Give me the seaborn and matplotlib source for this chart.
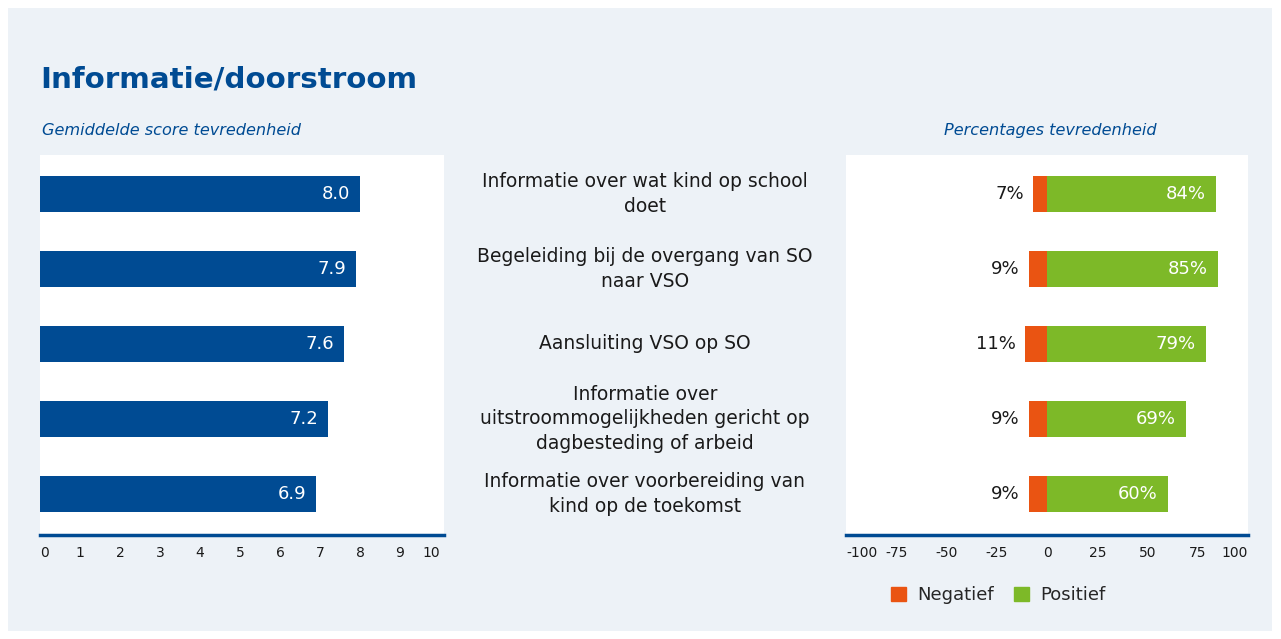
import pandas as pd
import matplotlib.pyplot as plt
import matplotlib.patches as mpatches
import matplotlib.transforms as mtransforms
import seaborn as sns

# data
items = [
    "Informatie over wat kind op school\ndoet",
    "Begeleiding bij de overgang van SO\nnaar VSO",
    "Aansluiting VSO op SO",
    "Informatie over\nuitstroommogelijkheden gericht op\ndagbesteding of arbeid",
    "Informatie over voorbereiding van\nkind op de toekomst",
]
scores = [8.0, 7.9, 7.6, 7.2, 6.9]
negatief = [7, 9, 11, 9, 9]
positief = [84, 85, 79, 69, 60]

BG = "#EDF2F7"
BLUE = "#004B93"
ORANGE = "#EA5412"
GREEN = "#7DB928"
TXT = "#1a1a1a"

sns.set_theme(style="white")
plt.rcParams["font.family"] = ["DejaVu Sans"]
plt.rcParams["axes.unicode_minus"] = False

df = pd.DataFrame({"item": items, "score": scores,
                   "neg": [-v for v in negatief], "pos": positief})

fig = plt.figure(figsize=(12.81, 6.39), dpi=100)
fig.patch.set_facecolor("white")
fig.patches.append(mpatches.Rectangle((8 / 1281, 8 / 639), 1264 / 1281, 623 / 639,
                                      transform=fig.transFigure, facecolor=BG,
                                      edgecolor="none", zorder=-10))

ax1 = fig.add_axes([40 / 1281, 1 - 535 / 639, 404 / 1281, 380 / 639])
ax2 = fig.add_axes([846 / 1281, 1 - 535 / 639, 402 / 1281, 380 / 639])

# left: mean scores
sns.barplot(data=df, x="score", y="item", ax=ax1, color=BLUE, width=0.48,
            saturation=1, orient="h", linewidth=0)
for i, v in enumerate(scores):
    ax1.annotate(f"{v:.1f}", (v, i), xytext=(-7, 0), textcoords="offset points",
                 ha="right", va="center", color="white", fontsize=13)
ax1.set_xlim(0, 10.1)
ax1.set_xticks(range(0, 11))

# right: percentages
sns.barplot(data=df, x="neg", y="item", ax=ax2, color=ORANGE, width=0.48,
            saturation=1, orient="h", linewidth=0)
sns.barplot(data=df, x="pos", y="item", ax=ax2, color=GREEN, width=0.48,
            saturation=1, orient="h", linewidth=0)
for i, (n, p) in enumerate(zip(negatief, positief)):
    ax2.annotate(f"{n}%", (-n, i), xytext=(-6.5, 0), textcoords="offset points",
                 ha="right", va="center", color=TXT, fontsize=13)
    ax2.annotate(f"{p}%", (p, i), xytext=(-7, 0), textcoords="offset points",
                 ha="right", va="center", color="white", fontsize=13)
ax2.set_xlim(-100, 100)
ax2.set_xticks([-100, -75, -50, -25, 0, 25, 50, 75, 100])

for ax in (ax1, ax2):
    ax.set_facecolor("white")
    ax.set_ylim(4.55, -0.52)
    ax.set_ylabel("")
    ax.set_xlabel("")
    ax.set_yticks([])
    for s in ("top", "left", "right"):
        ax.spines[s].set_visible(False)
    ax.spines["bottom"].set_color(BLUE)
    ax.spines["bottom"].set_linewidth(2.5)
    ax.tick_params(axis="x", length=0, pad=8, labelsize=10, labelcolor=TXT)
    labels = ax.get_xticklabels()
    labels[0].set_ha("left")
    labels[-1].set_ha("right")

# item labels in the middle
trans = mtransforms.blended_transform_factory(fig.transFigure, ax1.transData)
for i, lab in enumerate(items):
    ax1.text(645 / 1281, i, lab, transform=trans, ha="center", va="center",
             fontsize=13.5, color=TXT, linespacing=1.38, clip_on=False)

# titles
fig.text(40 / 1281, 1 - 80 / 639, "Informatie/doorstroom", fontsize=21.2,
         fontweight="bold", color=BLUE, va="center", ha="left")
fig.text(42 / 1281, 1 - 130 / 639, "Gemiddelde score tevredenheid", fontsize=11.6,
         style="italic", color=BLUE, va="center", ha="left")
fig.text(1050 / 1281, 1 - 130 / 639, "Percentages tevredenheid", fontsize=11.6,
         style="italic", color=BLUE, va="center", ha="center")

handles = [mpatches.Patch(color=ORANGE, label="Negatief"),
           mpatches.Patch(color=GREEN, label="Positief")]
fig.legend(handles=handles, loc="center", bbox_to_anchor=(998 / 1281, 1 - 595 / 639),
           ncol=2, frameon=False, fontsize=13, handlelength=0.85, handleheight=0.85,
           handletextpad=0.6, columnspacing=1.1)

fig.savefig("out.png", dpi=100, facecolor=fig.get_facecolor())
